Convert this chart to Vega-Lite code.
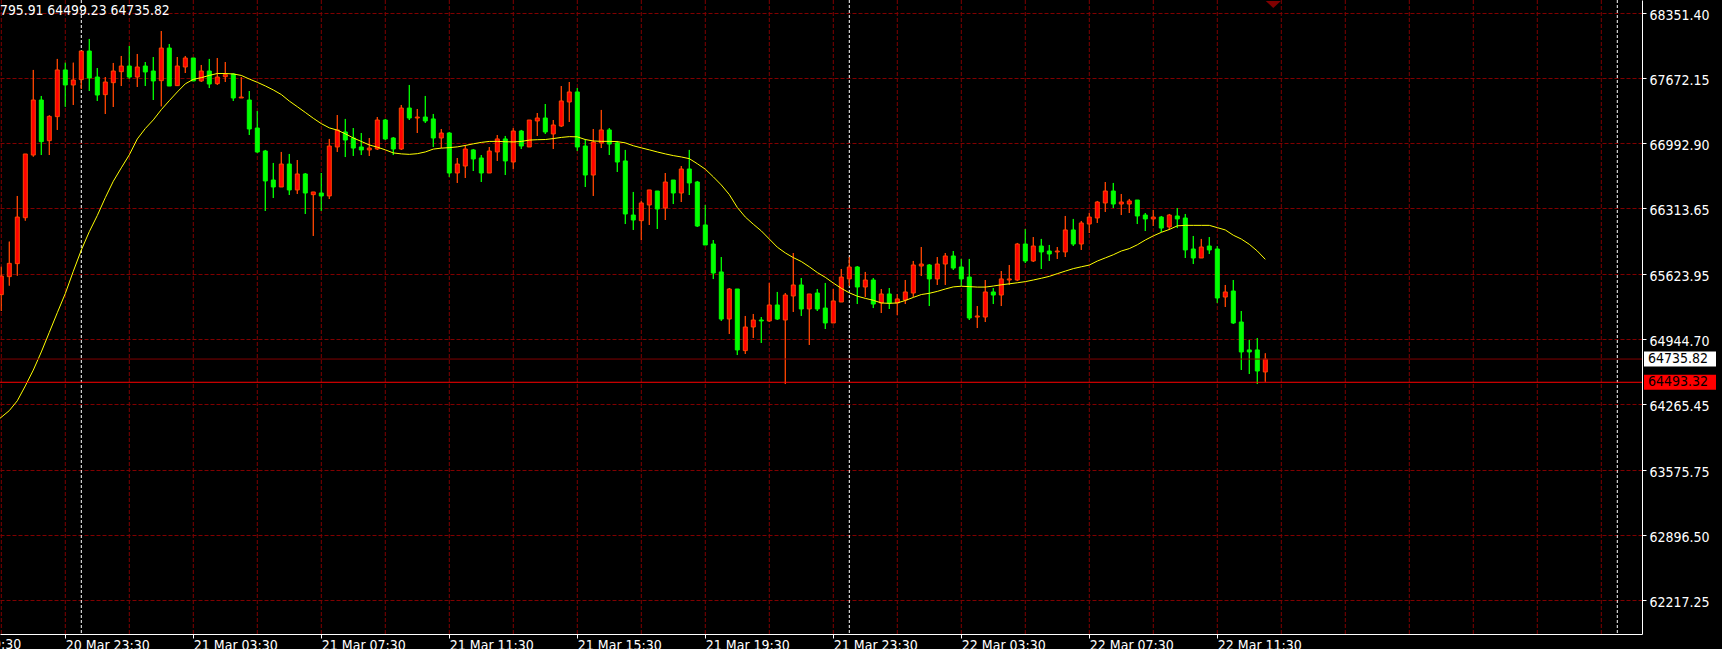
{
  "$schema": "https://vega.github.io/schema/vega-lite/v6.json",
  "width": 1642,
  "height": 634,
  "autosize": {"type": "none"},
  "padding": {"left": 0, "top": 0, "right": 80, "bottom": 15},
  "background": "#000000",
  "config": {"view": {"stroke": null}},
  "datasets": {
    "vgrid": [
      {"t":"2024-03-20T21:30Z"},{"t":"2024-03-20T23:30Z"},{"t":"2024-03-21T01:30Z"},{"t":"2024-03-21T03:30Z"},{"t":"2024-03-21T05:30Z"},
      {"t":"2024-03-21T07:30Z"},{"t":"2024-03-21T09:30Z"},{"t":"2024-03-21T11:30Z"},{"t":"2024-03-21T13:30Z"},{"t":"2024-03-21T15:30Z"},
      {"t":"2024-03-21T17:30Z"},{"t":"2024-03-21T19:30Z"},{"t":"2024-03-21T21:30Z"},{"t":"2024-03-21T23:30Z"},{"t":"2024-03-22T01:30Z"},
      {"t":"2024-03-22T03:30Z"},{"t":"2024-03-22T05:30Z"},{"t":"2024-03-22T07:30Z"},{"t":"2024-03-22T09:30Z"},{"t":"2024-03-22T11:30Z"},
      {"t":"2024-03-22T13:30Z"},{"t":"2024-03-22T15:30Z"},{"t":"2024-03-22T17:30Z"},{"t":"2024-03-22T19:30Z"},{"t":"2024-03-22T21:30Z"},
      {"t":"2024-03-22T23:30Z"}
    ],
    "days": [{"t": "2024-03-21T00:00Z"}, {"t": "2024-03-22T00:00Z"}, {"t": "2024-03-23T00:00Z"}],
    "levels": [{"p": 64735.82, "kind": "bid"}, {"p": 64493.32, "kind": "line"}],
    "marker": [{"t": "2024-03-22T13:15Z", "p": 68441}],
    "edgeLabel": [{"t": "2024-03-20T19:30Z", "label": "20 Mar 19:30"}],
    "bars": [
      {"t":"2024-03-20T21:30Z","o":65409,"h":65701,"l":65238,"c":65604},
      {"t":"2024-03-20T21:45Z","o":65597,"h":65963,"l":65503,"c":65736},
      {"t":"2024-03-20T22:00Z","o":65733,"h":66440,"l":65607,"c":66220},
      {"t":"2024-03-20T22:15Z","o":66213,"h":66879,"l":66182,"c":66879},
      {"t":"2024-03-20T22:30Z","o":66868,"h":67757,"l":66851,"c":67443},
      {"t":"2024-03-20T22:45Z","o":67443,"h":67485,"l":66868,"c":67008},
      {"t":"2024-03-20T23:00Z","o":67018,"h":67283,"l":66868,"c":67272},
      {"t":"2024-03-20T23:15Z","o":67269,"h":67872,"l":67130,"c":67757},
      {"t":"2024-03-20T23:30Z","o":67757,"h":67833,"l":67373,"c":67600},
      {"t":"2024-03-20T23:45Z","o":67600,"h":67833,"l":67391,"c":67652},
      {"t":"2024-03-21T00:00Z","o":67656,"h":67955,"l":67558,"c":67955},
      {"t":"2024-03-21T00:15Z","o":67955,"h":68081,"l":67537,"c":67673},
      {"t":"2024-03-21T00:30Z","o":67683,"h":67777,"l":67433,"c":67495},
      {"t":"2024-03-21T00:45Z","o":67499,"h":67683,"l":67297,"c":67631},
      {"t":"2024-03-21T01:00Z","o":67624,"h":67830,"l":67370,"c":67746},
      {"t":"2024-03-21T01:15Z","o":67739,"h":67903,"l":67589,"c":67798},
      {"t":"2024-03-21T01:30Z","o":67798,"h":68007,"l":67663,"c":67683},
      {"t":"2024-03-21T01:45Z","o":67683,"h":67924,"l":67579,"c":67788},
      {"t":"2024-03-21T02:00Z","o":67798,"h":67840,"l":67589,"c":67736},
      {"t":"2024-03-21T02:15Z","o":67746,"h":67892,"l":67443,"c":67642},
      {"t":"2024-03-21T02:30Z","o":67645,"h":68164,"l":67377,"c":67986},
      {"t":"2024-03-21T02:45Z","o":67986,"h":68028,"l":67589,"c":67589},
      {"t":"2024-03-21T03:00Z","o":67593,"h":67892,"l":67589,"c":67798},
      {"t":"2024-03-21T03:15Z","o":67788,"h":67903,"l":67725,"c":67882},
      {"t":"2024-03-21T03:30Z","o":67882,"h":67882,"l":67642,"c":67642},
      {"t":"2024-03-21T03:45Z","o":67642,"h":67809,"l":67631,"c":67746},
      {"t":"2024-03-21T04:00Z","o":67746,"h":67872,"l":67568,"c":67610},
      {"t":"2024-03-21T04:15Z","o":67614,"h":67882,"l":67600,"c":67683},
      {"t":"2024-03-21T04:30Z","o":67687,"h":67840,"l":67631,"c":67708},
      {"t":"2024-03-21T04:45Z","o":67715,"h":67722,"l":67433,"c":67464},
      {"t":"2024-03-21T05:00Z","o":67464,"h":67683,"l":67464,"c":67474},
      {"t":"2024-03-21T05:15Z","o":67443,"h":67537,"l":67077,"c":67140},
      {"t":"2024-03-21T05:30Z","o":67150,"h":67328,"l":66889,"c":66900},
      {"t":"2024-03-21T05:45Z","o":66910,"h":66921,"l":66283,"c":66597},
      {"t":"2024-03-21T06:00Z","o":66607,"h":66785,"l":66419,"c":66534},
      {"t":"2024-03-21T06:15Z","o":66534,"h":66900,"l":66534,"c":66774},
      {"t":"2024-03-21T06:30Z","o":66774,"h":66879,"l":66450,"c":66503},
      {"t":"2024-03-21T06:45Z","o":66503,"h":66816,"l":66461,"c":66670},
      {"t":"2024-03-21T07:00Z","o":66670,"h":66680,"l":66252,"c":66471},
      {"t":"2024-03-21T07:15Z","o":66454,"h":66482,"l":66022,"c":66482},
      {"t":"2024-03-21T07:30Z","o":66471,"h":66680,"l":66283,"c":66440},
      {"t":"2024-03-21T07:45Z","o":66440,"h":67036,"l":66408,"c":66962},
      {"t":"2024-03-21T08:00Z","o":66952,"h":67286,"l":66900,"c":67130},
      {"t":"2024-03-21T08:15Z","o":67109,"h":67245,"l":66847,"c":67025},
      {"t":"2024-03-21T08:30Z","o":67046,"h":67150,"l":66858,"c":66941},
      {"t":"2024-03-21T08:45Z","o":66952,"h":67098,"l":66868,"c":66921},
      {"t":"2024-03-21T09:00Z","o":66921,"h":67046,"l":66858,"c":66941},
      {"t":"2024-03-21T09:15Z","o":66931,"h":67265,"l":66921,"c":67234},
      {"t":"2024-03-21T09:30Z","o":67234,"h":67245,"l":67025,"c":67036},
      {"t":"2024-03-21T09:45Z","o":67046,"h":67056,"l":66868,"c":66931},
      {"t":"2024-03-21T10:00Z","o":66931,"h":67391,"l":66921,"c":67359},
      {"t":"2024-03-21T10:15Z","o":67359,"h":67600,"l":67234,"c":67255},
      {"t":"2024-03-21T10:30Z","o":67255,"h":67349,"l":67098,"c":67265},
      {"t":"2024-03-21T10:45Z","o":67265,"h":67485,"l":67203,"c":67224},
      {"t":"2024-03-21T11:00Z","o":67245,"h":67297,"l":66952,"c":67046},
      {"t":"2024-03-21T11:15Z","o":67046,"h":67140,"l":66941,"c":67098},
      {"t":"2024-03-21T11:30Z","o":67098,"h":67109,"l":66638,"c":66680},
      {"t":"2024-03-21T11:45Z","o":66680,"h":66837,"l":66576,"c":66774},
      {"t":"2024-03-21T12:00Z","o":66753,"h":66973,"l":66628,"c":66931},
      {"t":"2024-03-21T12:15Z","o":66921,"h":66931,"l":66701,"c":66827},
      {"t":"2024-03-21T12:30Z","o":66837,"h":66868,"l":66586,"c":66680},
      {"t":"2024-03-21T12:45Z","o":66680,"h":66952,"l":66680,"c":66910},
      {"t":"2024-03-21T13:00Z","o":66900,"h":67077,"l":66806,"c":67036},
      {"t":"2024-03-21T13:15Z","o":67036,"h":67067,"l":66659,"c":66806},
      {"t":"2024-03-21T13:30Z","o":66795,"h":67150,"l":66722,"c":67119},
      {"t":"2024-03-21T13:45Z","o":67119,"h":67130,"l":66931,"c":66962},
      {"t":"2024-03-21T14:00Z","o":66952,"h":67234,"l":66952,"c":67234},
      {"t":"2024-03-21T14:15Z","o":67224,"h":67307,"l":67067,"c":67255},
      {"t":"2024-03-21T14:30Z","o":67255,"h":67401,"l":67088,"c":67109},
      {"t":"2024-03-21T14:45Z","o":67088,"h":67234,"l":66931,"c":67182},
      {"t":"2024-03-21T15:00Z","o":67171,"h":67589,"l":67161,"c":67433},
      {"t":"2024-03-21T15:15Z","o":67422,"h":67631,"l":67213,"c":67527},
      {"t":"2024-03-21T15:30Z","o":67527,"h":67568,"l":66910,"c":66952},
      {"t":"2024-03-21T15:45Z","o":66962,"h":67036,"l":66534,"c":66659},
      {"t":"2024-03-21T16:00Z","o":66659,"h":67140,"l":66440,"c":67004},
      {"t":"2024-03-21T16:15Z","o":66994,"h":67339,"l":66941,"c":67130},
      {"t":"2024-03-21T16:30Z","o":67130,"h":67150,"l":66868,"c":66983},
      {"t":"2024-03-21T16:45Z","o":66994,"h":67015,"l":66691,"c":66795},
      {"t":"2024-03-21T17:00Z","o":66806,"h":66921,"l":66147,"c":66252},
      {"t":"2024-03-21T17:15Z","o":66241,"h":66482,"l":66085,"c":66189},
      {"t":"2024-03-21T17:30Z","o":66182,"h":66388,"l":65980,"c":66367},
      {"t":"2024-03-21T17:45Z","o":66346,"h":66503,"l":66137,"c":66503},
      {"t":"2024-03-21T18:00Z","o":66492,"h":66492,"l":66095,"c":66304},
      {"t":"2024-03-21T18:15Z","o":66314,"h":66680,"l":66189,"c":66586},
      {"t":"2024-03-21T18:30Z","o":66607,"h":66607,"l":66356,"c":66471},
      {"t":"2024-03-21T18:45Z","o":66471,"h":66753,"l":66377,"c":66722},
      {"t":"2024-03-21T19:00Z","o":66722,"h":66921,"l":66450,"c":66576},
      {"t":"2024-03-21T19:15Z","o":66586,"h":66597,"l":66116,"c":66126},
      {"t":"2024-03-21T19:30Z","o":66137,"h":66346,"l":65928,"c":65928},
      {"t":"2024-03-21T19:45Z","o":65938,"h":65980,"l":65572,"c":65635},
      {"t":"2024-03-21T20:00Z","o":65646,"h":65802,"l":65134,"c":65154},
      {"t":"2024-03-21T20:15Z","o":65154,"h":65478,"l":64998,"c":65468},
      {"t":"2024-03-21T20:30Z","o":65468,"h":65468,"l":64778,"c":64831},
      {"t":"2024-03-21T20:45Z","o":64824,"h":65186,"l":64789,"c":65071},
      {"t":"2024-03-21T21:00Z","o":65071,"h":65207,"l":64956,"c":65144},
      {"t":"2024-03-21T21:15Z","o":65144,"h":65175,"l":64904,"c":65134},
      {"t":"2024-03-21T21:30Z","o":65134,"h":65531,"l":65123,"c":65301},
      {"t":"2024-03-21T21:45Z","o":65301,"h":65437,"l":65144,"c":65154},
      {"t":"2024-03-21T22:00Z","o":65144,"h":65426,"l":64475,"c":65405},
      {"t":"2024-03-21T22:15Z","o":65395,"h":65844,"l":65228,"c":65510},
      {"t":"2024-03-21T22:30Z","o":65510,"h":65583,"l":65186,"c":65259},
      {"t":"2024-03-21T22:45Z","o":65259,"h":65416,"l":64883,"c":65416},
      {"t":"2024-03-21T23:00Z","o":65426,"h":65468,"l":65238,"c":65259},
      {"t":"2024-03-21T23:15Z","o":65269,"h":65531,"l":65050,"c":65113},
      {"t":"2024-03-21T23:30Z","o":65113,"h":65468,"l":65113,"c":65343},
      {"t":"2024-03-21T23:45Z","o":65332,"h":65677,"l":65332,"c":65593},
      {"t":"2024-03-22T00:00Z","o":65573,"h":65802,"l":65499,"c":65698},
      {"t":"2024-03-22T00:15Z","o":65698,"h":65708,"l":65311,"c":65489},
      {"t":"2024-03-22T00:30Z","o":65489,"h":65646,"l":65384,"c":65562},
      {"t":"2024-03-22T00:45Z","o":65562,"h":65583,"l":65269,"c":65311},
      {"t":"2024-03-22T01:00Z","o":65322,"h":65468,"l":65217,"c":65416},
      {"t":"2024-03-22T01:15Z","o":65416,"h":65478,"l":65259,"c":65322},
      {"t":"2024-03-22T01:30Z","o":65322,"h":65416,"l":65196,"c":65364},
      {"t":"2024-03-22T01:45Z","o":65353,"h":65562,"l":65311,"c":65437},
      {"t":"2024-03-22T02:00Z","o":65426,"h":65761,"l":65384,"c":65719},
      {"t":"2024-03-22T02:15Z","o":65708,"h":65907,"l":65604,"c":65729},
      {"t":"2024-03-22T02:30Z","o":65719,"h":65729,"l":65290,"c":65573},
      {"t":"2024-03-22T02:45Z","o":65573,"h":65802,"l":65510,"c":65729},
      {"t":"2024-03-22T03:00Z","o":65729,"h":65844,"l":65510,"c":65813},
      {"t":"2024-03-22T03:15Z","o":65813,"h":65865,"l":65667,"c":65687},
      {"t":"2024-03-22T03:30Z","o":65698,"h":65782,"l":65499,"c":65573},
      {"t":"2024-03-22T03:45Z","o":65593,"h":65782,"l":65144,"c":65165},
      {"t":"2024-03-22T04:00Z","o":65175,"h":65290,"l":65060,"c":65186},
      {"t":"2024-03-22T04:15Z","o":65175,"h":65562,"l":65123,"c":65437},
      {"t":"2024-03-22T04:30Z","o":65437,"h":65478,"l":65311,"c":65405},
      {"t":"2024-03-22T04:45Z","o":65405,"h":65656,"l":65290,"c":65573},
      {"t":"2024-03-22T05:00Z","o":65562,"h":65719,"l":65510,"c":65573},
      {"t":"2024-03-22T05:15Z","o":65562,"h":65949,"l":65552,"c":65938},
      {"t":"2024-03-22T05:30Z","o":65938,"h":66095,"l":65740,"c":65761},
      {"t":"2024-03-22T05:45Z","o":65761,"h":66011,"l":65750,"c":65917},
      {"t":"2024-03-22T06:00Z","o":65917,"h":65991,"l":65677,"c":65855},
      {"t":"2024-03-22T06:15Z","o":65865,"h":65928,"l":65761,"c":65834},
      {"t":"2024-03-22T06:30Z","o":65855,"h":65907,"l":65782,"c":65865},
      {"t":"2024-03-22T06:45Z","o":65855,"h":66231,"l":65802,"c":66085},
      {"t":"2024-03-22T07:00Z","o":66085,"h":66200,"l":65917,"c":65938},
      {"t":"2024-03-22T07:15Z","o":65938,"h":66179,"l":65876,"c":66158},
      {"t":"2024-03-22T07:30Z","o":66147,"h":66262,"l":66053,"c":66220},
      {"t":"2024-03-22T07:45Z","o":66210,"h":66388,"l":66158,"c":66377},
      {"t":"2024-03-22T08:00Z","o":66367,"h":66586,"l":66273,"c":66492},
      {"t":"2024-03-22T08:15Z","o":66492,"h":66576,"l":66314,"c":66356},
      {"t":"2024-03-22T08:30Z","o":66356,"h":66461,"l":66241,"c":66377},
      {"t":"2024-03-22T08:45Z","o":66356,"h":66409,"l":66262,"c":66388},
      {"t":"2024-03-22T09:00Z","o":66398,"h":66398,"l":66147,"c":66231},
      {"t":"2024-03-22T09:15Z","o":66241,"h":66262,"l":66074,"c":66200},
      {"t":"2024-03-22T09:30Z","o":66200,"h":66294,"l":66126,"c":66220},
      {"t":"2024-03-22T09:45Z","o":66220,"h":66231,"l":66064,"c":66105},
      {"t":"2024-03-22T10:00Z","o":66116,"h":66252,"l":66085,"c":66241},
      {"t":"2024-03-22T10:15Z","o":66231,"h":66314,"l":66105,"c":66200},
      {"t":"2024-03-22T10:30Z","o":66210,"h":66252,"l":65792,"c":65876},
      {"t":"2024-03-22T10:45Z","o":65886,"h":66022,"l":65729,"c":65792},
      {"t":"2024-03-22T11:00Z","o":65792,"h":65991,"l":65792,"c":65907},
      {"t":"2024-03-22T11:15Z","o":65917,"h":66011,"l":65834,"c":65876},
      {"t":"2024-03-22T11:30Z","o":65886,"h":65917,"l":65322,"c":65374},
      {"t":"2024-03-22T11:45Z","o":65384,"h":65510,"l":65280,"c":65437},
      {"t":"2024-03-22T12:00Z","o":65447,"h":65562,"l":65102,"c":65113},
      {"t":"2024-03-22T12:15Z","o":65123,"h":65238,"l":64622,"c":64810},
      {"t":"2024-03-22T12:30Z","o":64831,"h":64935,"l":64580,"c":64810},
      {"t":"2024-03-22T12:45Z","o":64831,"h":64956,"l":64475,"c":64611},
      {"t":"2024-03-22T13:00Z","o":64601,"h":64795.91,"l":64499.23,"c":64735.82}
    ],
    "ma": [
      {"t":"2024-03-20T21:15Z","v":64058},{"t":"2024-03-20T21:30Z","v":64128},{"t":"2024-03-20T21:45Z","v":64197},{"t":"2024-03-20T22:00Z","v":64300},
      {"t":"2024-03-20T22:15Z","v":64455},{"t":"2024-03-20T22:30Z","v":64621},{"t":"2024-03-20T22:45Z","v":64810},{"t":"2024-03-20T23:00Z","v":65015},
      {"t":"2024-03-20T23:15Z","v":65220},{"t":"2024-03-20T23:30Z","v":65421},{"t":"2024-03-20T23:45Z","v":65653},
      {"t":"2024-03-21T00:00Z","v":65875},{"t":"2024-03-21T00:15Z","v":66067},{"t":"2024-03-21T00:30Z","v":66236},{"t":"2024-03-21T00:45Z","v":66422},
      {"t":"2024-03-21T01:00Z","v":66594},{"t":"2024-03-21T01:15Z","v":66734},{"t":"2024-03-21T01:30Z","v":66870},{"t":"2024-03-21T01:45Z","v":67036},
      {"t":"2024-03-21T02:00Z","v":67145},{"t":"2024-03-21T02:15Z","v":67235},{"t":"2024-03-21T02:30Z","v":67342},{"t":"2024-03-21T02:45Z","v":67436},
      {"t":"2024-03-21T03:00Z","v":67527},{"t":"2024-03-21T03:15Z","v":67612},{"t":"2024-03-21T03:30Z","v":67659},{"t":"2024-03-21T03:45Z","v":67676},
      {"t":"2024-03-21T04:00Z","v":67700},{"t":"2024-03-21T04:15Z","v":67720},{"t":"2024-03-21T04:30Z","v":67720},{"t":"2024-03-21T04:45Z","v":67715},
      {"t":"2024-03-21T05:00Z","v":67700},{"t":"2024-03-21T05:15Z","v":67662},{"t":"2024-03-21T05:30Z","v":67628},{"t":"2024-03-21T05:45Z","v":67590},
      {"t":"2024-03-21T06:00Z","v":67548},{"t":"2024-03-21T06:15Z","v":67500},{"t":"2024-03-21T06:30Z","v":67432},{"t":"2024-03-21T06:45Z","v":67373},
      {"t":"2024-03-21T07:00Z","v":67313},{"t":"2024-03-21T07:15Z","v":67252},{"t":"2024-03-21T07:30Z","v":67196},{"t":"2024-03-21T07:45Z","v":67152},
      {"t":"2024-03-21T08:00Z","v":67128},{"t":"2024-03-21T08:15Z","v":67090},{"t":"2024-03-21T08:30Z","v":67046},{"t":"2024-03-21T08:45Z","v":67010},
      {"t":"2024-03-21T09:00Z","v":66973},{"t":"2024-03-21T09:15Z","v":66950},{"t":"2024-03-21T09:30Z","v":66922},{"t":"2024-03-21T09:45Z","v":66890},
      {"t":"2024-03-21T10:00Z","v":66880},{"t":"2024-03-21T10:15Z","v":66875},{"t":"2024-03-21T10:30Z","v":66882},{"t":"2024-03-21T10:45Z","v":66900},
      {"t":"2024-03-21T11:00Z","v":66930},{"t":"2024-03-21T11:15Z","v":66940},{"t":"2024-03-21T11:30Z","v":66945},{"t":"2024-03-21T11:45Z","v":66953},
      {"t":"2024-03-21T12:00Z","v":66968},{"t":"2024-03-21T12:15Z","v":66985},{"t":"2024-03-21T12:30Z","v":67000},{"t":"2024-03-21T12:45Z","v":67010},
      {"t":"2024-03-21T13:00Z","v":67011},{"t":"2024-03-21T13:15Z","v":67007},{"t":"2024-03-21T13:30Z","v":67005},{"t":"2024-03-21T13:45Z","v":67010},
      {"t":"2024-03-21T14:00Z","v":67024},{"t":"2024-03-21T14:15Z","v":67028},{"t":"2024-03-21T14:30Z","v":67030},{"t":"2024-03-21T14:45Z","v":67040},
      {"t":"2024-03-21T15:00Z","v":67052},{"t":"2024-03-21T15:15Z","v":67060},{"t":"2024-03-21T15:30Z","v":67058},{"t":"2024-03-21T15:45Z","v":67030},
      {"t":"2024-03-21T16:00Z","v":67015},{"t":"2024-03-21T16:15Z","v":67011},{"t":"2024-03-21T16:30Z","v":67011},{"t":"2024-03-21T16:45Z","v":67008},
      {"t":"2024-03-21T17:00Z","v":66995},{"t":"2024-03-21T17:15Z","v":66965},{"t":"2024-03-21T17:30Z","v":66943},{"t":"2024-03-21T17:45Z","v":66922},
      {"t":"2024-03-21T18:00Z","v":66900},{"t":"2024-03-21T18:15Z","v":66880},{"t":"2024-03-21T18:30Z","v":66862},{"t":"2024-03-21T18:45Z","v":66848},
      {"t":"2024-03-21T19:00Z","v":66830},{"t":"2024-03-21T19:15Z","v":66777},{"t":"2024-03-21T19:30Z","v":66720},{"t":"2024-03-21T19:45Z","v":66640},
      {"t":"2024-03-21T20:00Z","v":66555},{"t":"2024-03-21T20:15Z","v":66455},{"t":"2024-03-21T20:30Z","v":66320},{"t":"2024-03-21T20:45Z","v":66220},
      {"t":"2024-03-21T21:00Z","v":66145},{"t":"2024-03-21T21:15Z","v":66075},{"t":"2024-03-21T21:30Z","v":65990},{"t":"2024-03-21T21:45Z","v":65905},
      {"t":"2024-03-21T22:00Z","v":65845},{"t":"2024-03-21T22:15Z","v":65796},{"t":"2024-03-21T22:30Z","v":65755},{"t":"2024-03-21T22:45Z","v":65700},
      {"t":"2024-03-21T23:00Z","v":65640},{"t":"2024-03-21T23:15Z","v":65590},{"t":"2024-03-21T23:30Z","v":65530},{"t":"2024-03-21T23:45Z","v":65475},
      {"t":"2024-03-22T00:00Z","v":65428},{"t":"2024-03-22T00:15Z","v":65393},{"t":"2024-03-22T00:30Z","v":65370},{"t":"2024-03-22T00:45Z","v":65350},
      {"t":"2024-03-22T01:00Z","v":65322},{"t":"2024-03-22T01:15Z","v":65318},{"t":"2024-03-22T01:30Z","v":65322},{"t":"2024-03-22T01:45Z","v":65348},
      {"t":"2024-03-22T02:00Z","v":65380},{"t":"2024-03-22T02:15Z","v":65410},{"t":"2024-03-22T02:30Z","v":65423},{"t":"2024-03-22T02:45Z","v":65443},
      {"t":"2024-03-22T03:00Z","v":65468},{"t":"2024-03-22T03:15Z","v":65490},{"t":"2024-03-22T03:30Z","v":65497},{"t":"2024-03-22T03:45Z","v":65493},
      {"t":"2024-03-22T04:00Z","v":65488},{"t":"2024-03-22T04:15Z","v":65488},{"t":"2024-03-22T04:30Z","v":65499},{"t":"2024-03-22T04:45Z","v":65512},
      {"t":"2024-03-22T05:00Z","v":65522},{"t":"2024-03-22T05:15Z","v":65533},{"t":"2024-03-22T05:30Z","v":65545},{"t":"2024-03-22T05:45Z","v":65562},
      {"t":"2024-03-22T06:00Z","v":65580},{"t":"2024-03-22T06:15Z","v":65600},{"t":"2024-03-22T06:30Z","v":65628},{"t":"2024-03-22T06:45Z","v":65655},
      {"t":"2024-03-22T07:00Z","v":65681},{"t":"2024-03-22T07:15Z","v":65700},{"t":"2024-03-22T07:30Z","v":65718},{"t":"2024-03-22T07:45Z","v":65760},
      {"t":"2024-03-22T08:00Z","v":65793},{"t":"2024-03-22T08:15Z","v":65826},{"t":"2024-03-22T08:30Z","v":65865},{"t":"2024-03-22T08:45Z","v":65890},
      {"t":"2024-03-22T09:00Z","v":65930},{"t":"2024-03-22T09:15Z","v":65980},{"t":"2024-03-22T09:30Z","v":66023},{"t":"2024-03-22T09:45Z","v":66060},
      {"t":"2024-03-22T10:00Z","v":66090},{"t":"2024-03-22T10:15Z","v":66128},{"t":"2024-03-22T10:30Z","v":66133},{"t":"2024-03-22T10:45Z","v":66133},
      {"t":"2024-03-22T11:00Z","v":66133},{"t":"2024-03-22T11:15Z","v":66133},{"t":"2024-03-22T11:30Z","v":66109},{"t":"2024-03-22T11:45Z","v":66085},
      {"t":"2024-03-22T12:00Z","v":66030},{"t":"2024-03-22T12:15Z","v":65990},{"t":"2024-03-22T12:30Z","v":65935},{"t":"2024-03-22T12:45Z","v":65865},
      {"t":"2024-03-22T13:00Z","v":65778}
    ]
  },
  "layer": [
    {
      "data": {"name": "bars"},
      "mark": {"type": "rule", "strokeWidth": 1},
      "encoding": {
        "x": {
          "field": "t", "type": "temporal",
          "scale": {"type": "utc", "domain": [1710970053750, 1711154778750], "nice": false, "padding": 0},
          "axis": {
            "orient": "bottom", "title": null, "grid": false,
            "values": [1710963000000, 1710977400000, 1710991800000, 1711006200000, 1711020600000, 1711035000000, 1711049400000, 1711063800000, 1711078200000, 1711092600000, 1711107000000],
            "format": "%d %b %H:%M",
            "labelColor": "#ffffff", "labelFont": "DejaVu Sans Condensed, DejaVu Sans", "labelFontSize": 14,
            "labelAlign": "left", "labelBaseline": "top", "labelPadding": 0,
            "labelFlush": false, "labelOverlap": false, "labelBound": false,
            "tickColor": "#ffffff", "tickSize": 4, "tickWidth": 1,
            "domainColor": "#ffffff", "domainWidth": 1
          }
        },
        "y": {
          "field": "l", "type": "quantitative",
          "scale": {"domain": [61862.7, 68488], "zero": false, "nice": false, "padding": 0},
          "axis": {
            "orient": "right", "title": null,
            "values": [62217.25, 62896.5, 63575.75, 64265.45, 64944.7, 65623.95, 66313.65, 66992.9, 67672.15, 68351.4],
            "format": ".2f",
            "grid": true, "gridColor": "#800000", "gridDash": [4, 2], "gridWidth": 1, "gridOpacity": 1,
            "labelColor": "#ffffff", "labelFont": "DejaVu Sans Condensed, DejaVu Sans", "labelFontSize": 14,
            "labelAlign": "left", "labelBaseline": "middle", "labelPadding": 3, "labelOffset": 2,
            "labelFlush": false, "labelOverlap": false, "labelBound": false,
            "tickColor": "#ffffff", "tickSize": 4, "tickWidth": 1,
            "domainColor": "#ffffff", "domainWidth": 1
          }
        },
        "y2": {"field": "h"},
        "color": {"condition": {"test": "datum.c >= datum.o", "value": "#ff4500"}, "value": "#00ff00"}
      }
    },
    {
      "data": {"name": "vgrid"},
      "mark": {"type": "rule", "color": "#800000", "strokeDash": [4, 2], "strokeWidth": 1},
      "encoding": {
        "x": {"field": "t", "type": "temporal", "scale": {"type": "utc"}}
      }
    },
    {
      "data": {"name": "days"},
      "mark": {"type": "rule", "color": "#ffffff", "strokeDash": [3, 2], "strokeWidth": 1},
      "encoding": {
        "x": {"field": "t", "type": "temporal", "scale": {"type": "utc"}}
      }
    },
    {
      "data": {"name": "bars"},
      "mark": {"type": "rule", "strokeWidth": 1},
      "encoding": {
        "x": {"field": "t", "type": "temporal", "scale": {"type": "utc"}},
        "y": {"field": "l", "type": "quantitative"},
        "y2": {"field": "h"},
        "color": {"condition": {"test": "datum.c >= datum.o", "value": "#ff4500"}, "value": "#00ff00"}
      }
    },
    {
      "data": {"name": "bars"},
      "mark": {"type": "bar", "width": 4, "strokeWidth": 1},
      "encoding": {
        "x": {"field": "t", "type": "temporal", "scale": {"type": "utc"}},
        "y": {"field": "o", "type": "quantitative"},
        "y2": {"field": "c"},
        "fill": {"condition": {"test": "datum.c >= datum.o", "value": "#ff0000"}, "value": "#00ff00"},
        "stroke": {"condition": {"test": "datum.c >= datum.o", "value": "#ff4500"}, "value": "#00ff00"}
      }
    },
    {
      "data": {"name": "ma"},
      "mark": {"type": "line", "color": "#ffff00", "strokeWidth": 1, "clip": true},
      "encoding": {
        "x": {"field": "t", "type": "temporal", "scale": {"type": "utc"}},
        "y": {"field": "v", "type": "quantitative"}
      }
    },
    {
      "data": {"name": "levels"},
      "mark": {"type": "rule", "strokeWidth": 1},
      "encoding": {
        "y": {"field": "p", "type": "quantitative"},
        "color": {"field": "kind", "type": "nominal", "scale": {"domain": ["bid", "line"], "range": ["#800000", "#ff0000"]}, "legend": null}
      }
    },
    {
      "data": {"name": "levels"},
      "mark": {"type": "bar", "orient": "horizontal", "height": 15},
      "encoding": {
        "x": {"datum": 1711155003750, "type": "temporal", "scale": {"type": "utc"}},
        "x2": {"datum": 1711163103750},
        "y": {"field": "p", "type": "quantitative"},
        "fill": {"field": "kind", "type": "nominal", "scale": {"domain": ["bid", "line"], "range": ["#ffffff", "#ff0000"]}, "legend": null}
      }
    },
    {
      "data": {"name": "levels"},
      "mark": {"type": "text", "align": "left", "baseline": "middle", "color": "#000000", "font": "DejaVu Sans Condensed, DejaVu Sans", "fontSize": 14},
      "encoding": {
        "x": {"datum": 1711155453750, "type": "temporal", "scale": {"type": "utc"}},
        "y": {"field": "p", "type": "quantitative"},
        "text": {"field": "p", "type": "quantitative", "format": ".2f"}
      }
    },
    {
      "data": {"name": "marker"},
      "mark": {"type": "point", "shape": "M -1 -0.47 L 1 -0.47 L 0 0.47 Z", "size": 225, "filled": true, "color": "#800000", "opacity": 1, "clip": true},
      "encoding": {
        "x": {"field": "t", "type": "temporal", "scale": {"type": "utc"}},
        "y": {"field": "p", "type": "quantitative"}
      }
    },
    {
      "data": {"name": "edgeLabel"},
      "mark": {"type": "text", "align": "left", "baseline": "top", "color": "#ffffff", "font": "DejaVu Sans Condensed, DejaVu Sans", "fontSize": 14},
      "encoding": {
        "x": {"field": "t", "type": "temporal", "scale": {"type": "utc"}},
        "y": {"datum": 61820.9, "type": "quantitative"},
        "text": {"field": "label", "type": "nominal"}
      }
    },
    {
      "data": {"values": [{"label": "795.91 64499.23 64735.82"}]},
      "mark": {"type": "text", "align": "left", "baseline": "middle", "color": "#ffffff", "font": "DejaVu Sans Condensed, DejaVu Sans", "fontSize": 13.8},
      "encoding": {
        "x": {"datum": 1710970053750, "type": "temporal", "scale": {"type": "utc"}},
        "y": {"datum": 68373, "type": "quantitative"},
        "text": {"field": "label", "type": "nominal"}
      }
    }
  ]
}
